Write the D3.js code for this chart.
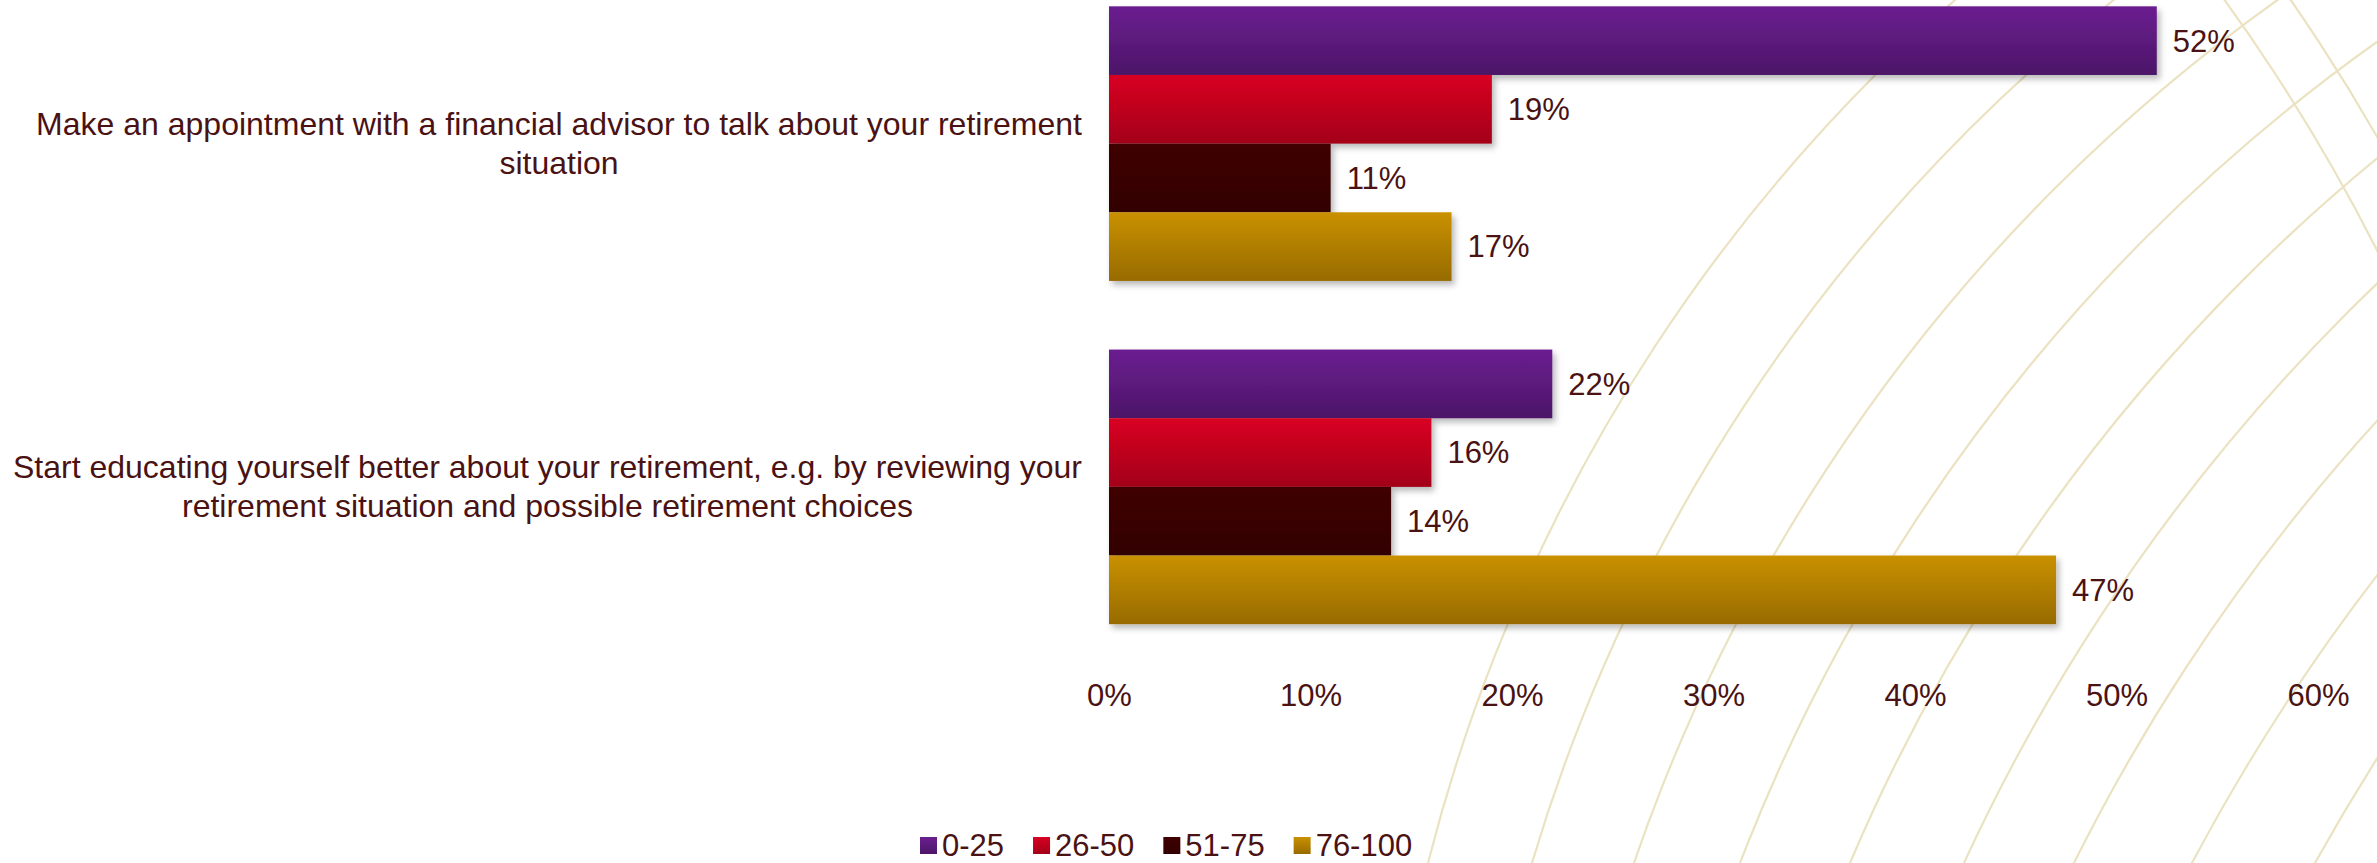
<!DOCTYPE html>
<html>
<head>
<meta charset="utf-8">
<script src="https://cdn.jsdelivr.net/npm/d3@7"></script>
<style>
  html, body { margin: 0; padding: 0; background: #ffffff; }
  svg { display: block; }
  text { font-family: "Liberation Sans", Arial, Helvetica, sans-serif; }
</style>
</head>
<body>
<svg id="chart"></svg>
<script>
// ---- data -------------------------------------------------------------
const categories = [
  "Make an appointment with a financial advisor to talk about your retirement situation",
  "Start educating yourself better about your retirement, e.g. by reviewing your retirement situation and possible retirement choices"
];
const series = ["0-25", "26-50", "51-75", "76-100"];
const share0to25   = [52, 22];
const share26to50  = [19, 16];
const share51to75  = [11, 14];
const share76to100 = [17, 47];
const xTicks = [0, 10, 20, 30, 40, 50, 60];

const seriesValues = [share0to25, share26to50, share51to75, share76to100];
const rows = [];
categories.forEach((c, ci) => {
  series.forEach((s, si) => rows.push({ category: c, series: s, value: seriesValues[si][ci] }));
});

// ---- layout & style ---------------------------------------------------
const W = 2377, H = 863;
const textColor = "#4a1212";
const fontSize = 31;
const catFontSize = 32;
const gradientStops = {
  "0-25":   ["#6b1f90", "#4c1568"],
  "26-50":  ["#d90022", "#a30019"],
  "51-75":  ["#400000", "#320000"],
  "76-100": ["#c99100", "#976b00"]
};

const svg = d3.select("#chart").attr("width", W).attr("height", H);
svg.append("rect").attr("width", W).attr("height", H).attr("fill", "#ffffff");

const defs = svg.append("defs");
series.forEach((s, i) => {
  const g = defs.append("linearGradient")
    .attr("id", "grad" + i).attr("x1", 0).attr("y1", 0).attr("x2", 0).attr("y2", 1);
  g.append("stop").attr("offset", "0%").attr("stop-color", gradientStops[s][0]);
  g.append("stop").attr("offset", "100%").attr("stop-color", gradientStops[s][1]);
});
const shadow = defs.append("filter").attr("id", "barShadow")
  .attr("x", "-5%").attr("y", "-20%").attr("width", "115%").attr("height", "160%");
shadow.append("feDropShadow")
  .attr("dx", 3).attr("dy", 4).attr("stdDeviation", 3)
  .attr("flood-color", "#000").attr("flood-opacity", 0.28);

// ---- decorative background: faint beige globe-like arcs --------------
// each arc is a circle through two crossings: one at y = 315, one at the bottom edge
const arcRowTop = 315, arcRowBottom = 863;
const arcCrossTop    = [1676, 1808, 1940, 2073, 2209, 2345, 2481, 2617, 2753];
const arcCrossBottom = [1428, 1532, 1634, 1740, 1850, 1964, 2074, 2192, 2315];
const deco = svg.append("g").attr("fill", "none").attr("stroke", "#ebe2c2").attr("stroke-width", 2.2);
arcCrossTop.forEach((xt, k) => {
  const xb = arcCrossBottom[k];
  const cy = 1284 + 75 * k;
  const cx = (xt + xb) / 2 +
    ((arcRowTop - cy) ** 2 - (arcRowBottom - cy) ** 2) / (2 * (xt - xb));
  const r = Math.hypot(cx - xb, cy - arcRowBottom);
  deco.append("circle").attr("cx", cx).attr("cy", cy).attr("r", r);
});
[1880, 1934].forEach(r => {
  deco.append("circle").attr("cx", 700).attr("cy", 1100).attr("r", r);
});

// ---- scales -----------------------------------------------------------
const x = d3.scaleLinear().domain([0, 60]).range([1109, 2318]);
const y = d3.scaleBand().domain(categories).range([-28, 658.5])
  .paddingInner(0.2).paddingOuter(0.1);
const ySub = d3.scaleBand().domain(series).range([0, y.bandwidth()]);
const color = d3.scaleOrdinal().domain(series).range(series.map((s, i) => `url(#grad${i})`));

// ---- bars -------------------------------------------------------------
const bars = svg.append("g");
bars.selectAll("rect")
  .data(rows)
  .join("rect")
  .attr("x", x(0))
  .attr("y", d => y(d.category) + ySub(d.series))
  .attr("width", d => x(d.value) - x(0))
  .attr("height", ySub.bandwidth())
  .attr("fill", d => color(d.series))
  .attr("filter", "url(#barShadow)");

// value labels
svg.append("g").selectAll("text")
  .data(rows)
  .join("text")
  .attr("x", d => x(d.value) + 16)
  .attr("y", d => y(d.category) + ySub(d.series) + ySub.bandwidth() / 2)
  .attr("dy", "0.35em")
  .attr("font-size", fontSize)
  .attr("fill", textColor)
  .text(d => d.value + "%");

// ---- x axis (labels only) --------------------------------------------
const xAxis = d3.axisBottom(x).tickValues(xTicks).tickFormat(d => d + "%").tickSize(0).tickPadding(0);
const ax = svg.append("g").attr("transform", "translate(0,695)").call(xAxis);
ax.select(".domain").remove();
ax.selectAll("text")
  .attr("y", 0).attr("dy", "0.35em")
  .attr("font-size", fontSize)
  .attr("font-family", '"Liberation Sans", Arial, sans-serif')
  .attr("fill", textColor);

// ---- category labels (wrapped, block right-aligned, lines centred) ----
const labelRight = 1082;
const wrapWidth = 1090;
const lineHeight = 39;
const catG = svg.append("g");
categories.forEach(c => {
  const t = catG.append("text").attr("font-size", catFontSize).attr("fill", textColor)
    .attr("text-anchor", "middle");
  const words = c.split(" ");
  const lines = [];
  let cur = [];
  const probe = t.append("tspan");
  words.forEach(w => {
    const trial = cur.concat([w]).join(" ");
    probe.text(trial);
    if (probe.node().getComputedTextLength() > wrapWidth && cur.length) {
      lines.push(cur.join(" "));
      cur = [w];
    } else {
      cur.push(w);
    }
  });
  if (cur.length) lines.push(cur.join(" "));
  probe.remove();
  let maxW = 0;
  lines.forEach(l => {
    const s = t.append("tspan").text(l);
    maxW = Math.max(maxW, s.node().getComputedTextLength());
  });
  const cx = labelRight - maxW / 2;
  const mid = y(c) + y.bandwidth() / 2;
  const firstBaseline = mid - ((lines.length - 1) * lineHeight) / 2 + 11;
  t.selectAll("tspan")
    .attr("x", cx)
    .attr("y", (d, i) => firstBaseline + i * lineHeight);
});

// ---- legend -----------------------------------------------------------
const legend = svg.append("g").attr("transform", "translate(920,845)");
let lx = 0;
series.forEach((s, i) => {
  const item = legend.append("g").attr("transform", `translate(${lx},0)`);
  item.append("rect").attr("x", 0).attr("y", -8).attr("width", 17).attr("height", 17)
    .attr("fill", color(s));
  const t = item.append("text").attr("x", 22).attr("dy", "0.35em")
    .attr("font-size", fontSize).attr("fill", textColor).text(s);
  lx += 22 + t.node().getComputedTextLength() + 29;
});
</script>
</body>
</html>
